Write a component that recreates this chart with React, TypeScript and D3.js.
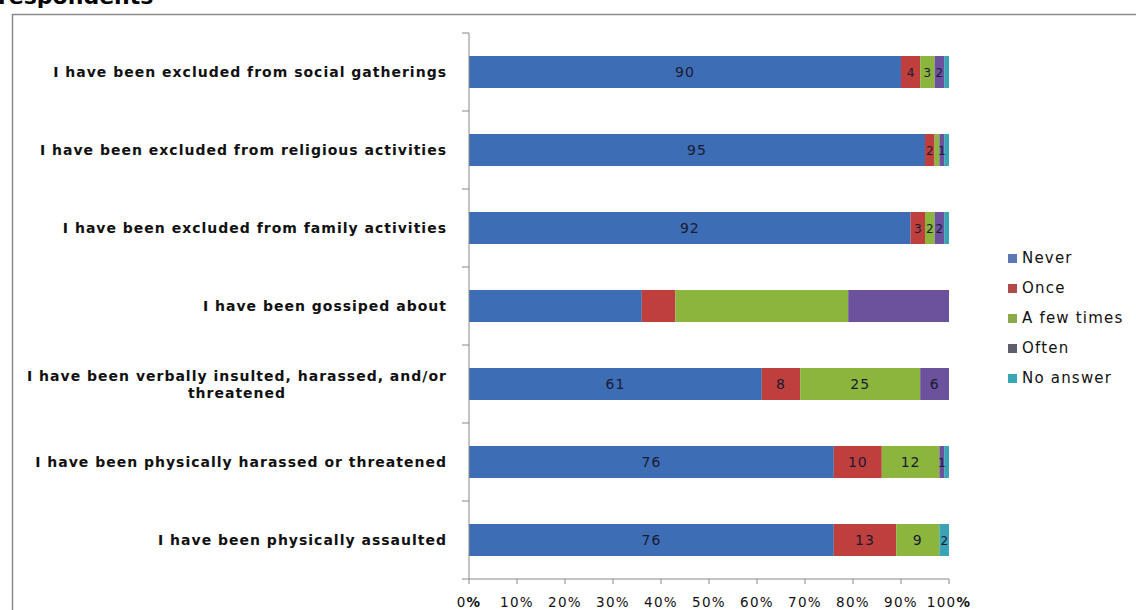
import React from "react";
import * as d3 from "d3";

const categories = [
  "I have been excluded from social gatherings",
  "I have been excluded from religious activities",
  "I have been excluded from family activities",
  "I have been gossiped about",
  "I have been verbally insulted, harassed, and/or threatened",
  "I have been physically harassed or threatened",
  "I have been physically assaulted",
];
const wrappedLines: string[][] = [
  ["I have been excluded from social gatherings"],
  ["I have been excluded from religious activities"],
  ["I have been excluded from family activities"],
  ["I have been gossiped about"],
  ["I have been verbally insulted, harassed, and/or", "threatened"],
  ["I have been physically harassed or threatened"],
  ["I have been physically assaulted"],
];
const seriesNames = ["Never", "Once", "A few times", "Often", "No answer"];
const never = [90, 95, 92, 36, 61, 76, 76];
const once = [4, 2, 3, 7, 8, 10, 13];
const aFewTimes = [3, 1, 2, 36, 25, 12, 9];
const often = [2, 1, 2, 21, 6, 1, 0];
const noAnswer = [1, 1, 1, 0, 0, 1, 2];
const showLabels = [true, true, true, false, true, true, true];
const tickValues = [0, 10, 20, 30, 40, 50, 60, 70, 80, 90, 100];
const colors = ["#3d6db4", "#bf3f3c", "#8bb53d", "#6c529c", "#3aa3b5"];
const legendColors = ["#5b78b4", "#b04a48", "#8bab4a", "#5e5e6e", "#3aa6b4"];

export default function App() {
  const W = 1136, H = 610;
  const x0 = 469, x1 = 949, yTop = 33, yBot = 579;
  const x = d3.scaleLinear().domain([0, 100]).range([x0, x1]);
  const y = d3.scaleBand<number>().domain(d3.range(categories.length)).range([yTop, yBot]).paddingInner(0.59).paddingOuter(0.295);
  const rows = categories.map((c, i) => ({ key: i, Never: never[i], Once: once[i], "A few times": aFewTimes[i], Often: often[i], "No answer": noAnswer[i] }));
  const stack = d3.stack<any>().keys(seriesNames)(rows);
  const step = (yBot - yTop) / categories.length;
  const labelFont = "'DejaVu Sans', Verdana, sans-serif";

  // decide which segment labels to draw (skip ones that would collide with the previous label)
  const segLabels: { x: number; y: number; v: number; small: boolean; key: string }[] = [];
  categories.forEach((_, i) => {
    if (!showLabels[i]) return;
    let lastX = -Infinity;
    stack.forEach((s, si) => {
      const d = s[i];
      const v = d[1] - d[0];
      if (v <= 0) return;
      const cx = (x(d[0]) + x(d[1])) / 2;
      if (cx - lastX < 9) return;
      lastX = cx;
      segLabels.push({ x: cx, y: y(i)! + y.bandwidth() / 2 + 5, v, small: v < 5, key: `${i}-${si}` });
    });
  });

  return (
    <svg width={W} height={H} style={{ position: "absolute", left: 0, top: 0, background: "#fff" }}>
      <text x={-2} y={4} fontFamily={labelFont} fontWeight="bold" fontSize={22}>respondents</text>
      <rect x={12.5} y={14.5} width={W} height={H} fill="#fff" stroke="#8a8a8a" strokeWidth={1.5} />
      {/* bars */}
      {stack.map((s, si) => (
        <g key={si}>
          {s.map((d, i) => (
            d[1] - d[0] > 0 ? (
              <rect key={i} x={x(d[0])} y={y(i)!} width={x(d[1]) - x(d[0])} height={y.bandwidth()} fill={colors[si]} />
            ) : null
          ))}
        </g>
      ))}
      {segLabels.map(l => (
        <text key={l.key} x={l.x} y={l.y} textAnchor="middle" fontFamily={labelFont}
          fontSize={l.small ? 12 : 14} letterSpacing={l.small ? 0 : 1} fill="#1a1a33">{l.v}</text>
      ))}
      {/* y axis */}
      <line x1={x0} x2={x0} y1={yTop} y2={yBot} stroke="#888" strokeWidth={1} />
      {d3.range(categories.length + 1).map(k => (
        <line key={k} x1={x0 - 7} x2={x0} y1={yTop + k * step} y2={yTop + k * step} stroke="#888" />
      ))}
      {/* x axis */}
      <line x1={x0} x2={x1} y1={yBot} y2={yBot} stroke="#888" />
      {tickValues.map(t => (
        <g key={t}>
          <line x1={x(t)} x2={x(t)} y1={yBot} y2={yBot + 5} stroke="#888" />
          <text x={x(t)} y={607} textAnchor="middle" fontFamily={labelFont} fontSize={13.5} letterSpacing={1.3} fill="#111">
            {t}<tspan fontWeight={t === 0 || t === 100 ? "bold" : "normal"}>%</tspan>
          </text>
        </g>
      ))}
      {/* category labels */}
      {wrappedLines.map((lines, i) => {
        const cy = y(i)! + y.bandwidth() / 2;
        if (lines.length === 1) {
          return <text key={i} x={447} y={cy + 5} textAnchor="end" fontFamily={labelFont} fontWeight="bold" fontSize={14} letterSpacing={1} fill="#111">{lines[0]}</text>;
        }
        return (
          <text key={i} x={237} y={cy - 3} textAnchor="middle" fontFamily={labelFont} fontWeight="bold" fontSize={14} letterSpacing={1} fill="#111">
            {lines.map((l, j) => <tspan key={j} x={237} dy={j === 0 ? 0 : 17}>{l}</tspan>)}
          </text>
        );
      })}
      {/* legend */}
      {seriesNames.map((n, i) => (
        <g key={n} transform={`translate(1008, ${258 + i * 30})`}>
          <rect x={0} y={-4} width={9} height={9} fill={legendColors[i]} />
          <text x={14} y={5} fontFamily={labelFont} fontSize={15} letterSpacing={1.2} fill="#111">{n}</text>
        </g>
      ))}
    </svg>
  );
}
